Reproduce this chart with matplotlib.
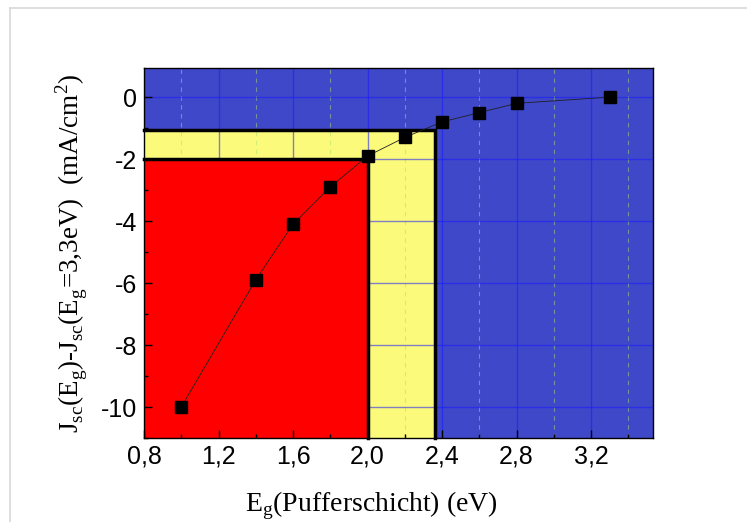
import matplotlib
matplotlib.use('Agg')
import matplotlib.pyplot as plt
import numpy as np
from matplotlib.patches import Rectangle
from matplotlib.ticker import MultipleLocator, FuncFormatter

plt.rcParams['axes.unicode_minus'] = False

# data
eg = [1.0, 1.4, 1.6, 1.8, 2.0, 2.2, 2.4, 2.6, 2.8, 3.3]
djsc = [-10.0, -5.9, -4.1, -2.9, -1.9, -1.3, -0.8, -0.5, -0.2, 0.0]
red_box = (2.0, -2.0)      # right edge, top edge
yellow_box = (2.365, -1.05)

fig = plt.figure(figsize=(7.47, 5.22), dpi=100)
ax = fig.add_axes([0.1928, 0.1609, 0.6814, 0.7088])
xlim = (0.8, 3.533)
ylim = (-11, 0.94)
ax.set_xlim(*xlim)
ax.set_ylim(*ylim)
ax.set_facecolor('#3f48c8')

x0, y0 = xlim[0], ylim[0]
ax.add_patch(Rectangle((x0, y0), yellow_box[0] - x0, yellow_box[1] - y0,
                       facecolor='#fcfa7a', edgecolor='none', zorder=0.5))

# grid, drawn by hand so the red box can cover it
for xv in np.arange(1.2, xlim[1], 0.4):
    ax.axvline(xv, color='#1a1aff', alpha=0.55, lw=1.0, zorder=1)
for xv in np.arange(1.0, xlim[1], 0.4):
    ax.axvline(xv, color='#a8e070', alpha=0.5, ls=(0, (4, 4)), lw=0.8, zorder=1)
for yv in np.arange(-10, 1, 2):
    ax.axhline(yv, color='#1a1aff', alpha=0.55, lw=1.0, zorder=1)

ax.add_patch(Rectangle((x0, y0), red_box[0] - x0, red_box[1] - y0,
                       facecolor='#ff0000', edgecolor='none', zorder=1.5))
for (xr, yt) in (yellow_box, red_box):
    ax.plot([x0, xr, xr], [yt, yt, y0], color='black', lw=2.5, zorder=2,
            solid_joinstyle='miter', clip_on=False)

ax.plot(eg, djsc, color='#202020', lw=0.6, marker='s', ms=8.5, mfc='black',
        mec='black', zorder=3)

ax.set_axisbelow(False)
ax.xaxis.set_major_locator(MultipleLocator(0.4))
ax.xaxis.set_minor_locator(MultipleLocator(0.2))
ax.yaxis.set_major_locator(MultipleLocator(2))
ax.yaxis.set_minor_locator(MultipleLocator(1))
ax.xaxis.set_major_formatter(FuncFormatter(lambda v, p: ('%.1f' % v).replace('.', ',')))
ax.yaxis.set_major_formatter(FuncFormatter(lambda v, p: '%d' % round(v)))
ax.tick_params(which='both', direction='in', labelsize=18)
ax.tick_params(which='major', length=6, width=1)
ax.tick_params(which='minor', length=3, width=1)
for lab in ax.get_xticklabels() + ax.get_yticklabels():
    lab.set_family('Liberation Sans')
ax.tick_params(axis='x', pad=5)
ax.tick_params(axis='y', pad=5)

for s in ax.spines.values():
    s.set_linewidth(1.0)
    s.set_zorder(4)

ax.set_xlabel('E$_\\mathregular{g}$(Pufferschicht) (eV)', family='Liberation Serif',
              fontsize=20)
ax.xaxis.set_label_coords(0.446, -0.14)
ax.set_ylabel('J$_\\mathregular{sc}$(E$_\\mathregular{g}$)-J$_\\mathregular{sc}$(E$_\\mathregular{g}$=3,3eV)  (mA/cm$^\\mathregular{2}$)',
              family='Liberation Serif', fontsize=19.5, labelpad=8)

# frame of the embedded picture
fig.add_artist(plt.Line2D([10 / 747, 1], [1 - 8 / 522, 1 - 8 / 522],
                          color='#d8d8d8', lw=1.2, transform=fig.transFigure))
fig.add_artist(plt.Line2D([10 / 747, 10 / 747], [0, 1 - 8 / 522],
                          color='#d8d8d8', lw=1.2, transform=fig.transFigure))

fig.savefig('out.png', dpi=100)
